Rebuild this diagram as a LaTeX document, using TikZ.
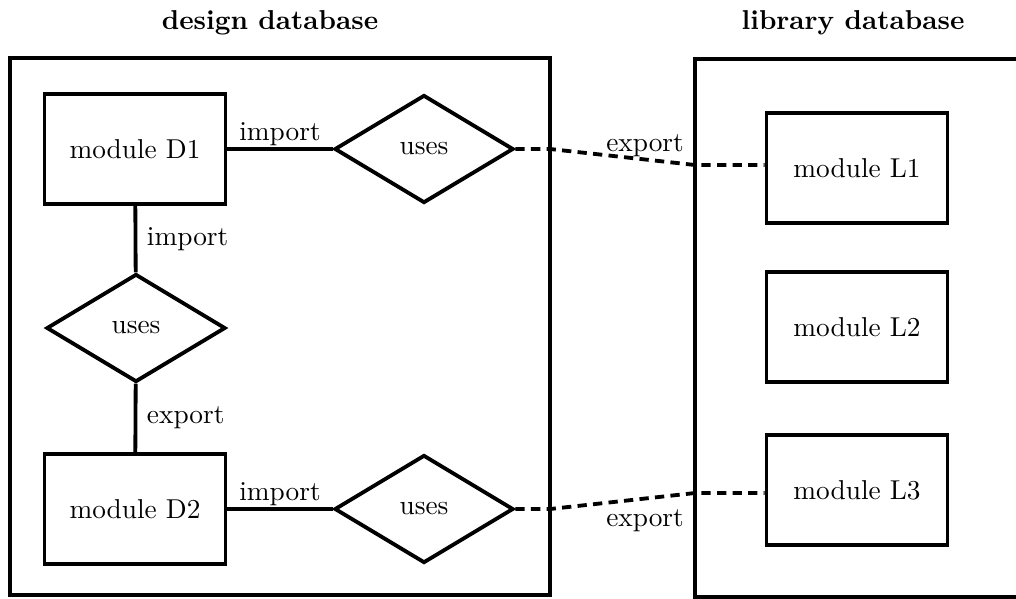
\documentclass[tikz,border=0pt]{standalone}
\usetikzlibrary{shapes.geometric}
\begin{document}
\begin{tikzpicture}[x=0.366pt, y=-0.366pt]
\tikzset{
  entity/.style={draw, rectangle, line width=1.4pt, inner sep=0pt,
    minimum width={181*0.366pt}, minimum height={110*0.366pt}},
  relation/.style={draw, diamond, line width=1.4pt, inner sep=0pt,
    minimum width={179*0.366pt}, minimum height={108*0.366pt}},
  link/.style={line width=1.4pt},
  reflink/.style={line width=1.4pt, dash pattern=on 3.4pt off 2.3pt},
  frame/.style={line width=1.4pt},
  role/.style={inner sep=0.5pt},
  title/.style={font=\bfseries, anchor=base},
}
\useasboundingbox (0,0) rectangle (1016,598);
\clip (0,0) rectangle (1016,598);

% database frames
\draw[frame] (10,58) rectangle (550,595);
\draw[frame] (695,59) rectangle (1040,597);
\node[title] (tdesign) at (270,29) {design database};
\node[title] (tlib) at (853,29) {library database};

% design database contents
\node[entity] (D1) at (135,149) {module D1};
\node[relation] (U1) at (424,149) {uses};
\node[relation] (U2) at (136,328) {uses};
\node[entity] (D2) at (135,509) {module D2};
\node[relation] (U3) at (424,509) {uses};

% library database contents
\node[entity] (L1) at (857,168) {module L1};
\node[entity] (L2) at (857,327) {module L2};
\node[entity] (L3) at (857,490) {module L3};

% relationships inside the design database
\draw[link] (D1) -- node[above, role] (i1) {import} (U1);
\draw[link] (D1) -- node[right=3pt, role] (i2) {import} (U2);
\draw[link] (U2) -- node[right=3pt, role] (x2) {export} (D2);
\draw[link] (D2) -- node[above, role] (i3) {import} (U3);

% references into the library
\coordinate (k1) at (550,149);
\coordinate (k2) at (695,165);
\coordinate (k3) at (550,509);
\coordinate (k4) at (695,493);
\draw[reflink] (U1.east) -- (k1) -- (k2) -- (k2 -| L1.west);
\draw[reflink] (U3.east) -- (k3) -- (k4) -- (k4 -| L3.west);
\node[role] (x1) at (645,146) {export};
\node[role] (x3) at (645,521) {export};
\end{tikzpicture}
\end{document}
